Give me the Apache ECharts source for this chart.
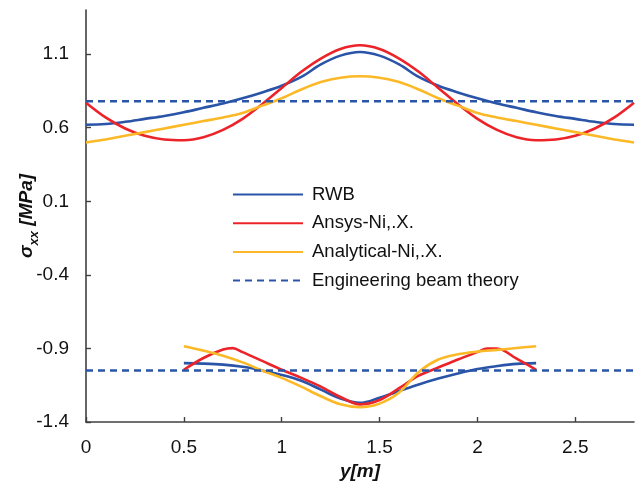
<!DOCTYPE html>
<html>
<head>
<meta charset="utf-8">
<script src="https://cdn.jsdelivr.net/npm/echarts@6/dist/echarts.min.js"></script>
<style>html,body{margin:0;padding:0;background:#fff}#c{width:642px;height:482px}</style>
</head>
<body>
<div id="c"></div>
<script>
// ---- data ----
const seriesNames = ['RWB', 'Ansys-Ni,.X.', 'Analytical-Ni,.X.', 'Engineering beam theory'];
const xTicks = [0, 0.5, 1, 1.5, 2, 2.5];
const yTicks = [-1.4, -0.9, -0.4, 0.1, 0.6, 1.1];

const xUpper = [0,0.1,0.2,0.3,0.4,0.5,0.6,0.7,0.8,0.9,1.0,1.1,1.2,1.3,1.4,1.5,1.6,1.7,1.8,1.9,2.0,2.1,2.2,2.3,2.4,2.5,2.6,2.7,2.8];
const rwbUpper = [0.62,0.625,0.64,0.66,0.68,0.705,0.735,0.765,0.80,0.84,0.885,0.945,1.03,1.09,1.115,1.09,1.03,0.945,0.885,0.84,0.80,0.765,0.735,0.705,0.68,0.66,0.64,0.625,0.62];
const ansysUpper = [0.77,0.67,0.595,0.545,0.52,0.515,0.535,0.585,0.66,0.76,0.87,0.98,1.07,1.135,1.16,1.135,1.07,0.98,0.87,0.76,0.66,0.585,0.535,0.515,0.52,0.545,0.595,0.67,0.77];
const analyticalUpper = [0.50,0.52,0.545,0.57,0.595,0.62,0.645,0.67,0.70,0.75,0.80,0.86,0.91,0.94,0.95,0.94,0.91,0.86,0.80,0.75,0.70,0.67,0.645,0.62,0.595,0.57,0.545,0.52,0.50];

const xLower = [0.5,0.6,0.7,0.8,0.9,1.0,1.1,1.2,1.3,1.4,1.5,1.6,1.7,1.8,1.9,2.0,2.1,2.2,2.3];
const rwbLower = [-1.00,-1.003,-1.01,-1.025,-1.05,-1.08,-1.12,-1.18,-1.24,-1.27,-1.235,-1.19,-1.145,-1.105,-1.07,-1.04,-1.02,-1.005,-1.00];
const analyticalLower = [-0.885,-0.915,-0.95,-0.995,-1.05,-1.10,-1.16,-1.225,-1.28,-1.30,-1.275,-1.20,-1.06,-0.975,-0.94,-0.922,-0.91,-0.897,-0.885];
const xLowerAnsys = [0.5,0.6,0.7,0.75,0.8,0.9,1.0,1.1,1.2,1.3,1.4,1.5,1.6,1.7,1.8,1.9,2.0,2.05,2.1,2.2,2.3];
const ansysLower = [-1.045,-0.965,-0.908,-0.898,-0.925,-0.985,-1.045,-1.10,-1.16,-1.23,-1.28,-1.25,-1.17,-1.085,-1.03,-0.975,-0.925,-0.90,-0.90,-0.97,-1.045];

const xBeam = [0, 2.8];
const beamUpper = [0.78, 0.78];
const beamLower = [-1.05, -1.05];

// ---- styles ----
const BLUE = '#2a54a7', RED = '#ec2329', YELLOW = '#fbb927';
const FONT = 'Liberation Sans, Arial, sans-serif';
const zip = (xs, ys) => xs.map((x, i) => [x, ys[i]]);

function curve(name, xs, ys, color, dashed) {
  return {
    name, type: 'line', data: zip(xs, ys), smooth: dashed ? false : 0.35,
    symbol: 'none', showSymbol: false,
    lineStyle: { color, width: 2.6, type: dashed ? [7, 5] : 'solid' },
    itemStyle: { color },
    emphasis: { disabled: true }, z: dashed ? 3 : 2
  };
}

const chart = echarts.init(document.getElementById('c'), null, { renderer: 'canvas' });
chart.setOption({
  animation: false,
  backgroundColor: '#fff',
  grid: { left: 86, right: 8, top: 10, bottom: 60, containLabel: false, outerBoundsMode: 'none' },
  legend: {
    orient: 'vertical', left: 227, top: 180,
    itemWidth: 70, itemHeight: 20, itemGap: 9.7,
    data: seriesNames,
    itemStyle: { opacity: 0 },
    textStyle: { fontFamily: FONT, fontSize: 18.5, color: '#111', padding: [0, 0, 0, 4] }
  },
  xAxis: {
    type: 'value', min: 0, max: 2.8,
    name: 'y[m]', nameLocation: 'middle', nameGap: 40, nameMoveOverlap: false,
    nameTextStyle: { fontFamily: FONT, fontSize: 19, fontWeight: 'bold', fontStyle: 'italic', color: '#111' },
    axisLine: { onZero: false, lineStyle: { color: '#404040', width: 1.6 } },
    axisTick: { inside: true, length: 5, customValues: xTicks, lineStyle: { color: '#404040', width: 1.4 } },
    axisLabel: { customValues: xTicks, margin: 16, fontFamily: FONT, fontSize: 19, color: '#111', formatter: v => String(v) },
    splitLine: { show: false }
  },
  yAxis: {
    type: 'value', min: -1.4, max: 1.4,
    name: '{i|σ}{s|xx}{i| [MPa]}', nameLocation: 'middle', nameGap: 50, nameRotate: 90, nameMoveOverlap: false,
    nameTextStyle: {
      rich: {
        i: { fontFamily: FONT, fontSize: 19, fontWeight: 'bold', fontStyle: 'italic', color: '#111', lineHeight: 24, verticalAlign: 'bottom' },
        s: { fontFamily: FONT, fontSize: 13, fontWeight: 'bold', fontStyle: 'italic', color: '#111', lineHeight: 24, verticalAlign: 'bottom', padding: [0, 0, -5, 0] }
      }
    },
    axisLine: { show: true, lineStyle: { color: '#404040', width: 1.6 } },
    axisTick: { inside: true, length: 5, customValues: yTicks, lineStyle: { color: '#404040', width: 1.4 } },
    axisLabel: { customValues: yTicks, margin: 17, fontFamily: FONT, fontSize: 19, color: '#111', formatter: v => v.toFixed(1) },
    splitLine: { show: false }
  },
  series: [
    curve(seriesNames[0], xUpper, rwbUpper, BLUE),
    curve(seriesNames[1], xUpper, ansysUpper, RED),
    curve(seriesNames[2], xUpper, analyticalUpper, YELLOW),
    curve(seriesNames[3], xBeam, beamUpper, BLUE, true),
    curve(seriesNames[0], xLower, rwbLower, BLUE),
    curve(seriesNames[1], xLowerAnsys, ansysLower, RED),
    curve(seriesNames[2], xLower, analyticalLower, YELLOW),
    curve(seriesNames[3], xBeam, beamLower, BLUE, true)
  ]
});
</script>
</body>
</html>
